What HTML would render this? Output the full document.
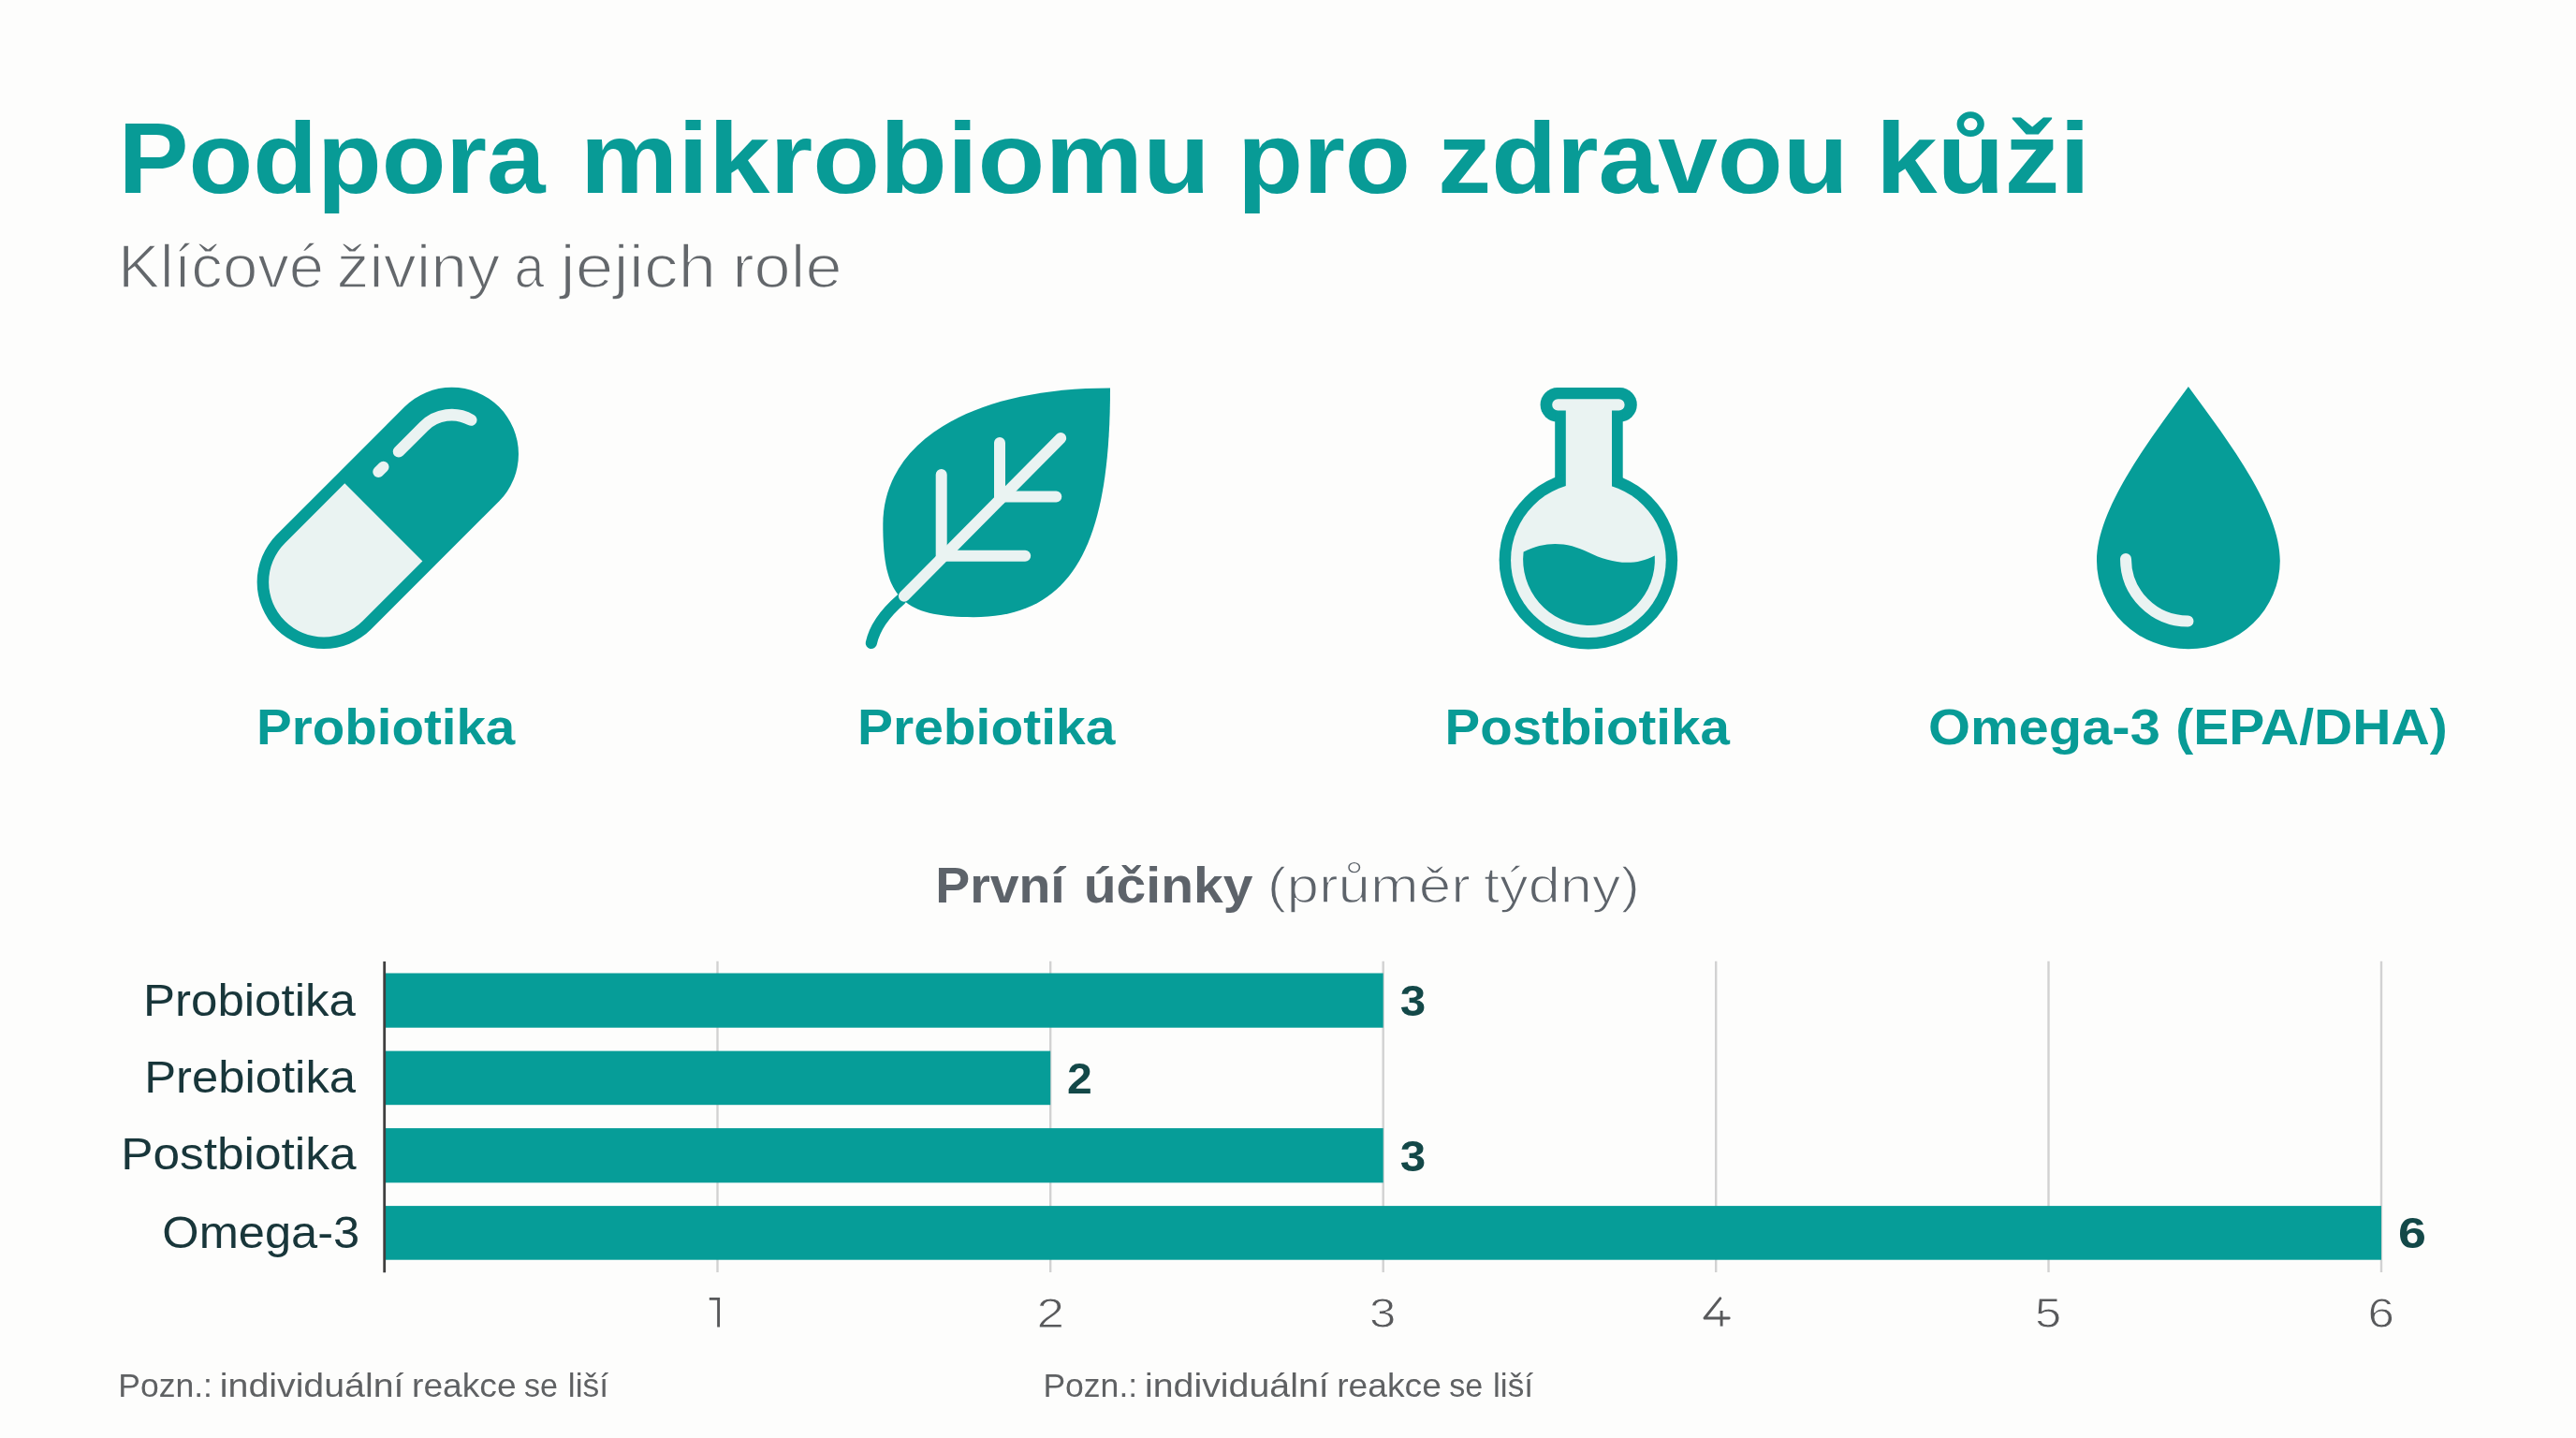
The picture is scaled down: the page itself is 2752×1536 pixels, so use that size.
<!DOCTYPE html>
<html>
<head>
<meta charset="utf-8">
<style>
html,body{margin:0;padding:0;background:#fdfdfc;}
body{width:2752px;height:1536px;overflow:hidden;}
svg{display:block;will-change:transform;}
text{font-family:"Liberation Sans",sans-serif;}
</style>
</head>
<body>
<svg width="2752" height="1536" viewBox="0 0 2752 1536">
<rect x="0" y="0" width="2752" height="1536" fill="#fdfdfc"/>
<g id="icons">
  <!-- Pill -->
  <g transform="translate(414.3 553.4) rotate(-45)">
    <rect x="-168" y="-71.3" width="336" height="142.6" rx="71.3" fill="#069d98"/>
    <clipPath id="pillclip"><rect x="-155.5" y="-58.8" width="311" height="117.6" rx="58.8"/></clipPath>
    <rect x="-170" y="-80" width="163.7" height="160" fill="#eaf3f2" clip-path="url(#pillclip)"/>
    <path d="M58.5 -42 L96.5 -42 A42 42 0 0 1 137 -11.2" fill="none" stroke="#eaf3f2" stroke-width="12.5" stroke-linecap="round"/>
    <path d="M27.8 -42 L35.3 -42" fill="none" stroke="#eaf3f2" stroke-width="12" stroke-linecap="round"/>
  </g>
  <!-- Leaf -->
  <path d="M930.8 687 C935 667 950 651 962.4 640.3" fill="none" stroke="#069d98" stroke-width="12.2" stroke-linecap="round"/>
  <path id="leafbody" d="M1186 414.5 C1036 414.5 943.3 472.7 943.3 560 C943.3 635 960 659.2 1040 659.2 C1150 659.2 1186 574.5 1186 414.5 Z" fill="#069d98"/>
  <g fill="none" stroke="#eaf3f2" stroke-width="12" stroke-linecap="round">
    <path d="M965.9 636.8 L1133.2 468"/>
    <path d="M1068 473 L1068 533.5 M1071 530.5 L1128.3 530.5"/>
    <path d="M1005.7 507.1 L1005.7 595.8 M1007.8 593.7 L1095.2 593.7"/>
  </g>
  <!-- Flask -->
  <g fill="#069d98">
    <rect x="1645.6" y="414.1" width="103.2" height="36.5" rx="18.25"/>
    <rect x="1661.2" y="440" width="72.5" height="80"/>
    <circle cx="1696.9" cy="598.25" r="95.25"/>
  </g>
  <g fill="#eaf3f2">
    <rect x="1658.2" y="426.3" width="77.4" height="12.2" rx="6.1"/>
    <rect x="1672.8" y="432" width="49.2" height="100"/>
    <circle cx="1696.9" cy="598.25" r="82.85"/>
  </g>
  <path d="M1627.6 589.5 C1652 577 1675 579 1697 590 S1745 606 1767.8 593.5 A70.4 70.4 0 1 1 1627.6 589.5 Z" fill="#069d98"/>
  <!-- Drop -->
  <path d="M2337.9 413 C2294.8 471.6 2240 543.9 2240 599 A97.9 94.3 0 0 0 2435.8 599 C2435.8 543.9 2381 471.6 2337.9 413 Z" fill="#069d98"/>
  <path d="M2271 597 A66.5 66.5 0 0 0 2337.5 663.5" fill="none" stroke="#eaf3f2" stroke-width="12" stroke-linecap="round"/>
</g>

<g stroke="#d2d2d2" stroke-width="2.4">
  <line x1="766.5" y1="1026.7" x2="766.5" y2="1359"/>
  <line x1="1122.2" y1="1026.7" x2="1122.2" y2="1359"/>
  <line x1="1477.7" y1="1026.7" x2="1477.7" y2="1359"/>
  <line x1="1833.2" y1="1026.7" x2="1833.2" y2="1359"/>
  <line x1="2188.5" y1="1026.7" x2="2188.5" y2="1359"/>
  <line x1="2544" y1="1026.7" x2="2544" y2="1359"/>
</g>
<g fill="#069d98">
  <rect x="411" y="1039.5" width="1066.7" height="58.2"/>
  <rect x="411" y="1122.6" width="711.2" height="57.6"/>
  <rect x="411" y="1205.1" width="1066.7" height="58.2"/>
  <rect x="411" y="1288.1" width="2133" height="57.6"/>
</g>
<line x1="410.7" y1="1027" x2="410.7" y2="1359.2" stroke="#3f3f3f" stroke-width="2.8"/>
<g fill="none" stroke="#58595b" stroke-width="2.9">
  <path d="M757.8 1387.35 H769.1 M767.6 1386 V1417.6"/>
  <path d="M1837.8 1386.8 L1821 1408 H1847.2" stroke-linejoin="round" stroke-linecap="round"/>
  <path d="M1839.1 1400 V1416.6"/>
</g>

<text id="t_titlew0" x="126.60" y="205.60" font-size="107" font-weight="700" fill="#089b96" textLength="456.06" lengthAdjust="spacingAndGlyphs">Podpora</text>
<text id="t_titlew1" x="619.80" y="205.60" font-size="107" font-weight="700" fill="#089b96" textLength="673.00" lengthAdjust="spacingAndGlyphs">mikrobiomu</text>
<text id="t_titlew2" x="1322.00" y="205.60" font-size="107" font-weight="700" fill="#089b96" textLength="185.02" lengthAdjust="spacingAndGlyphs">pro</text>
<text id="t_titlew3" x="1536.00" y="205.60" font-size="107" font-weight="700" fill="#089b96" textLength="438.62" lengthAdjust="spacingAndGlyphs">zdravou</text>
<text id="t_titlew4" x="2004.00" y="205.60" font-size="107" font-weight="700" fill="#089b96" textLength="229.09" lengthAdjust="spacingAndGlyphs">kůži</text>
<text id="t_subw0" x="126.00" y="307.40" font-size="64" stroke="#fdfdfc" stroke-width="1.6" fill="#63676b" textLength="220.09" lengthAdjust="spacingAndGlyphs">Klíčové</text>
<text id="t_subw1" x="359.40" y="307.40" font-size="64" stroke="#fdfdfc" stroke-width="1.6" fill="#63676b" textLength="174.75" lengthAdjust="spacingAndGlyphs">živiny</text>
<text id="t_subw2" x="549.40" y="307.40" font-size="64" stroke="#fdfdfc" stroke-width="1.6" fill="#63676b" textLength="31.99" lengthAdjust="spacingAndGlyphs">a</text>
<text id="t_subw3" x="598.60" y="307.40" font-size="64" stroke="#fdfdfc" stroke-width="1.6" fill="#63676b" textLength="166.47" lengthAdjust="spacingAndGlyphs">jejich</text>
<text id="t_subw4" x="782.20" y="307.40" font-size="64" stroke="#fdfdfc" stroke-width="1.6" fill="#63676b" textLength="117.36" lengthAdjust="spacingAndGlyphs">role</text>
<text id="t_l1" x="274.00" y="794.70" font-size="53" font-weight="700" fill="#089b96" textLength="276.24" lengthAdjust="spacingAndGlyphs">Probiotika</text>
<text id="t_l2" x="916.00" y="794.70" font-size="53" font-weight="700" fill="#089b96" textLength="275.31" lengthAdjust="spacingAndGlyphs">Prebiotika</text>
<text id="t_l3" x="1543.60" y="794.90" font-size="53" font-weight="700" fill="#089b96" textLength="304.19" lengthAdjust="spacingAndGlyphs">Postbiotika</text>
<text id="t_l4w0" x="2060.00" y="794.70" font-size="53" font-weight="700" fill="#089b96" textLength="247.86" lengthAdjust="spacingAndGlyphs">Omega-3</text>
<text id="t_l4w1" x="2324.20" y="794.70" font-size="53" font-weight="700" fill="#089b96" textLength="290.50" lengthAdjust="spacingAndGlyphs">(EPA/DHA)</text>
<text id="t_ct1w0" x="999.20" y="963.70" font-size="54" font-weight="700" fill="#5d636a" textLength="138.52" lengthAdjust="spacingAndGlyphs">První</text>
<text id="t_ct1w1" x="1157.80" y="963.70" font-size="54" font-weight="700" fill="#5d636a" textLength="180.55" lengthAdjust="spacingAndGlyphs">účinky</text>
<text id="t_ct2w0" x="1353.80" y="963.60" font-size="54" stroke="#fdfdfc" stroke-width="1.4" fill="#5d636a" textLength="217.08" lengthAdjust="spacingAndGlyphs">(průměr</text>
<text id="t_ct2w1" x="1585.00" y="963.60" font-size="54" stroke="#fdfdfc" stroke-width="1.4" fill="#5d636a" textLength="166.95" lengthAdjust="spacingAndGlyphs">týdny)</text>
<text id="t_c1" x="153.00" y="1084.50" font-size="48" fill="#18363a" textLength="226.85" lengthAdjust="spacingAndGlyphs">Probiotika</text>
<text id="t_c2" x="154.20" y="1166.90" font-size="48" fill="#18363a" textLength="225.84" lengthAdjust="spacingAndGlyphs">Prebiotika</text>
<text id="t_c3" x="129.20" y="1249.20" font-size="48" fill="#18363a" textLength="251.34" lengthAdjust="spacingAndGlyphs">Postbiotika</text>
<text id="t_c4" x="173.30" y="1333.20" font-size="48" fill="#18363a" textLength="210.84" lengthAdjust="spacingAndGlyphs">Omega-3</text>
<text id="t_v1" x="1495.80" y="1085.40" font-size="46" font-weight="700" fill="#134848" textLength="27.45" lengthAdjust="spacingAndGlyphs">3</text>
<text id="t_v2" x="1140.10" y="1168.00" font-size="46" font-weight="700" fill="#134848" textLength="26.76" lengthAdjust="spacingAndGlyphs">2</text>
<text id="t_v3" x="1495.80" y="1251.00" font-size="46" font-weight="700" fill="#134848" textLength="27.45" lengthAdjust="spacingAndGlyphs">3</text>
<text id="t_v4" x="2562.00" y="1332.70" font-size="46" font-weight="700" fill="#134848" textLength="29.92" lengthAdjust="spacingAndGlyphs">6</text>
<text id="t_f1w0" x="126.20" y="1491.80" font-size="35" fill="#5f6163" textLength="100.79" lengthAdjust="spacingAndGlyphs">Pozn.:</text>
<text id="t_f1w1" x="234.80" y="1491.80" font-size="35" fill="#5f6163" textLength="196.67" lengthAdjust="spacingAndGlyphs">individuální</text>
<text id="t_f1w2" x="440.00" y="1491.80" font-size="35" fill="#5f6163" textLength="111.64" lengthAdjust="spacingAndGlyphs">reakce</text>
<text id="t_f1w3" x="560.00" y="1491.80" font-size="35" fill="#5f6163" textLength="36.00" lengthAdjust="spacingAndGlyphs">se</text>
<text id="t_f1w4" x="606.80" y="1491.80" font-size="35" fill="#5f6163" textLength="43.32" lengthAdjust="spacingAndGlyphs">liší</text>
<text id="t_f2w0" x="1114.40" y="1491.90" font-size="35" fill="#5f6163" textLength="100.75" lengthAdjust="spacingAndGlyphs">Pozn.:</text>
<text id="t_f2w1" x="1223.00" y="1491.90" font-size="35" fill="#5f6163" textLength="196.67" lengthAdjust="spacingAndGlyphs">individuální</text>
<text id="t_f2w2" x="1428.20" y="1491.90" font-size="35" fill="#5f6163" textLength="111.74" lengthAdjust="spacingAndGlyphs">reakce</text>
<text id="t_f2w3" x="1548.20" y="1491.90" font-size="35" fill="#5f6163" textLength="36.00" lengthAdjust="spacingAndGlyphs">se</text>
<text id="t_f2w4" x="1595.00" y="1491.90" font-size="35" fill="#5f6163" textLength="43.08" lengthAdjust="spacingAndGlyphs">liší</text>
<text id="t_x2" x="1107.50" y="1417.50" font-size="44" stroke="#fdfdfc" stroke-width="0.9" fill="#58595b" textLength="29.54" lengthAdjust="spacingAndGlyphs">2</text>
<text id="t_x3" x="1463.00" y="1417.50" font-size="44" stroke="#fdfdfc" stroke-width="0.9" fill="#58595b" textLength="28.32" lengthAdjust="spacingAndGlyphs">3</text>
<text id="t_x5" x="2174.00" y="1417.50" font-size="44" stroke="#fdfdfc" stroke-width="0.9" fill="#58595b" textLength="28.21" lengthAdjust="spacingAndGlyphs">5</text>
<text id="t_x6" x="2529.50" y="1417.50" font-size="44" stroke="#fdfdfc" stroke-width="0.9" fill="#58595b" textLength="28.42" lengthAdjust="spacingAndGlyphs">6</text>
</svg>
</body>
</html>
